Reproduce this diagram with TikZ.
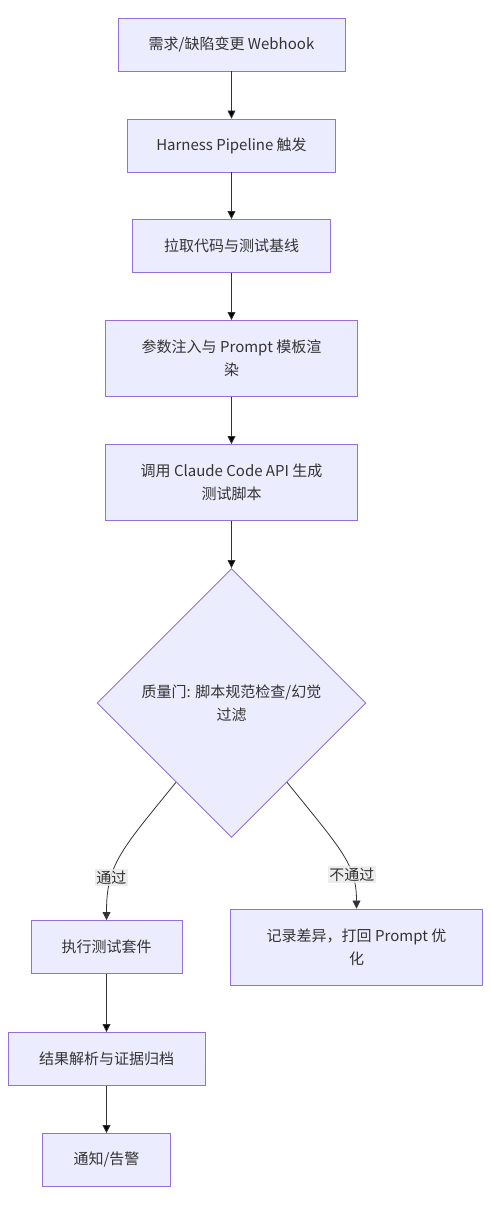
\documentclass[tikz,border=0pt]{standalone}
\usepackage{fontspec}
\setmainfont{Noto Sans CJK SC}
\usetikzlibrary{positioning,shapes.geometric,arrows.meta}
\definecolor{boxfill}{HTML}{ECECFF}
\definecolor{boxline}{HTML}{9370DB}
\definecolor{edgecol}{HTML}{333333}
\definecolor{lblfill}{HTML}{E8E8E8}
\tikzset{
  stepbox/.style={draw=boxline, fill=boxfill, line width=0.9pt, inner sep=0pt,
    minimum height=53pt, align=center, text=edgecol,
    font=\fontsize{15}{23}\selectfont},
  gatebox/.style={stepbox, diamond, aspect=1, minimum size=269pt},
  lbl/.style={fill=lblfill, fill opacity=0.8, text opacity=1, inner sep=1.5pt,
    text=edgecol, font=\fontsize{15}{18}\selectfont},
  flow/.style={draw=edgecol, line width=0.8pt, -{Triangle[length=8pt,width=8pt]}}
}
\begin{document}
\begin{tikzpicture}[x=1pt, y=1pt, on grid]
\useasboundingbox (0,0) rectangle (490,1206);
\node (hook) [stepbox, minimum width=227pt] at (231.5,1161.5) {需求/缺陷变更 Webhook};
\node (trig) [stepbox, minimum width=208pt, below = 101pt of hook] {Harness Pipeline 触发};
\node (pull) [stepbox, minimum width=198pt, below = 100.5pt of trig] {拉取代码与测试基线};
\node (tmpl) [stepbox, minimum width=252pt, minimum height=76pt, below = 112.5pt of pull] {参数注入与 Prompt 模板渲\\染};
\node (call) [stepbox, minimum width=252pt, minimum height=76pt, below = 124pt of tmpl] {调用 Claude Code API 生成\\测试脚本};
\node (gate) [gatebox, below = 220.5pt of call] {质量门: 脚本规范检查/幻觉\\过滤};
\node (run) [stepbox, minimum width=151pt, below left = 244pt and 125pt of gate] {执行测试套件};
\node (diff) [stepbox, minimum width=252pt, minimum height=76pt, below right = 244pt and 125pt of gate] {记录差异，打回 Prompt 优\\化};
\node (parse) [stepbox, minimum width=197pt, below = 112pt of run] {结果解析与证据归档};
\node (note) [stepbox, minimum width=128pt, below = 101pt of parse] {通知/告警};
\path [flow]
    (hook) edge (trig)
    (trig) edge (pull)
    (pull) edge (tmpl)
    (tmpl) edge (call)
    (call) edge (gate)
    (run) edge (parse)
    (parse) edge (note);
\draw [flow] (gate.235) .. controls +(-55,-68) and +(0,56) .. (run.north)
    node [lbl, pos=0.69] {通过};
\draw [flow] (gate.-55) .. controls +(55,-68) and +(0,44) .. (diff.north)
    node [lbl, pos=0.7] {不通过};
\end{tikzpicture}
\end{document}
